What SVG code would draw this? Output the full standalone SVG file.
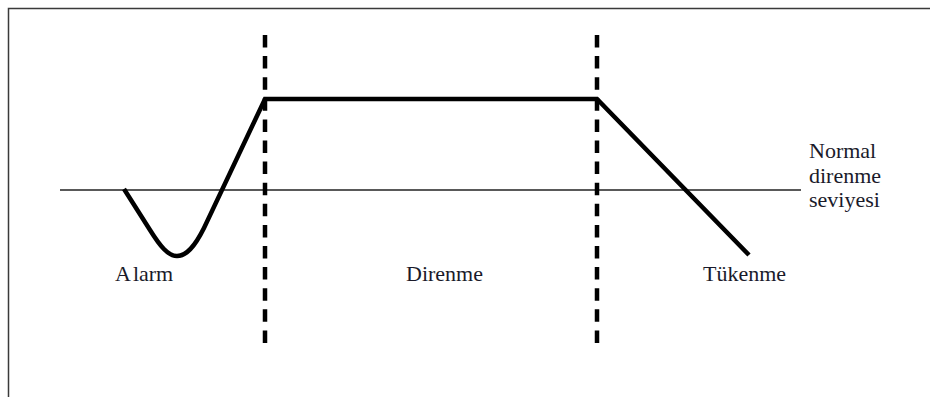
<svg xmlns="http://www.w3.org/2000/svg" width="930" height="397" viewBox="0 0 930 397">
<style>
.frame{fill:none;stroke:#3a3a3a;stroke-width:1.5}
.base{fill:none;stroke:#222;stroke-width:1.3}
.divider{fill:none;stroke:#000;stroke-width:4.5;stroke-dasharray:12.5 8.6}
.curve{fill:none;stroke:#000;stroke-width:4.5;stroke-linejoin:miter;stroke-linecap:butt}
.lbl{font-family:"Liberation Serif","Times New Roman",serif;font-size:22px;fill:#1a1a2a}
</style>
<rect width="930" height="397" fill="#fff"/>
<path class="frame" d="M8.5,397 V8.5 H930"/>
<g id="connectors">
<line class="base" x1="60" y1="190" x2="801" y2="190"/>
<line id="div1" class="divider" x1="265" y1="35" x2="265" y2="343"/>
<line id="div2" class="divider" x1="597" y1="35" x2="597" y2="343"/>
<path class="curve" d="M124,189 L150,230 C160,246 168,256 177,256 C186,256 194,248 204,228 L265,99 L597,99 L749,255"/>
</g>
<g id="alarm"><text class="lbl" x="115" y="281">A<tspan dx="2">larm</tspan></text></g>
<g id="direnme"><text class="lbl" x="406" y="281">Direnme</text></g>
<g id="tukenme"><text class="lbl" x="703" y="281">Tükenme</text></g>
<g id="normal">
<text class="lbl" x="809" y="158">Normal</text>
<text class="lbl" x="809" y="183">direnme</text>
<text class="lbl" x="809" y="207">seviyesi</text>
</g>
</svg>
